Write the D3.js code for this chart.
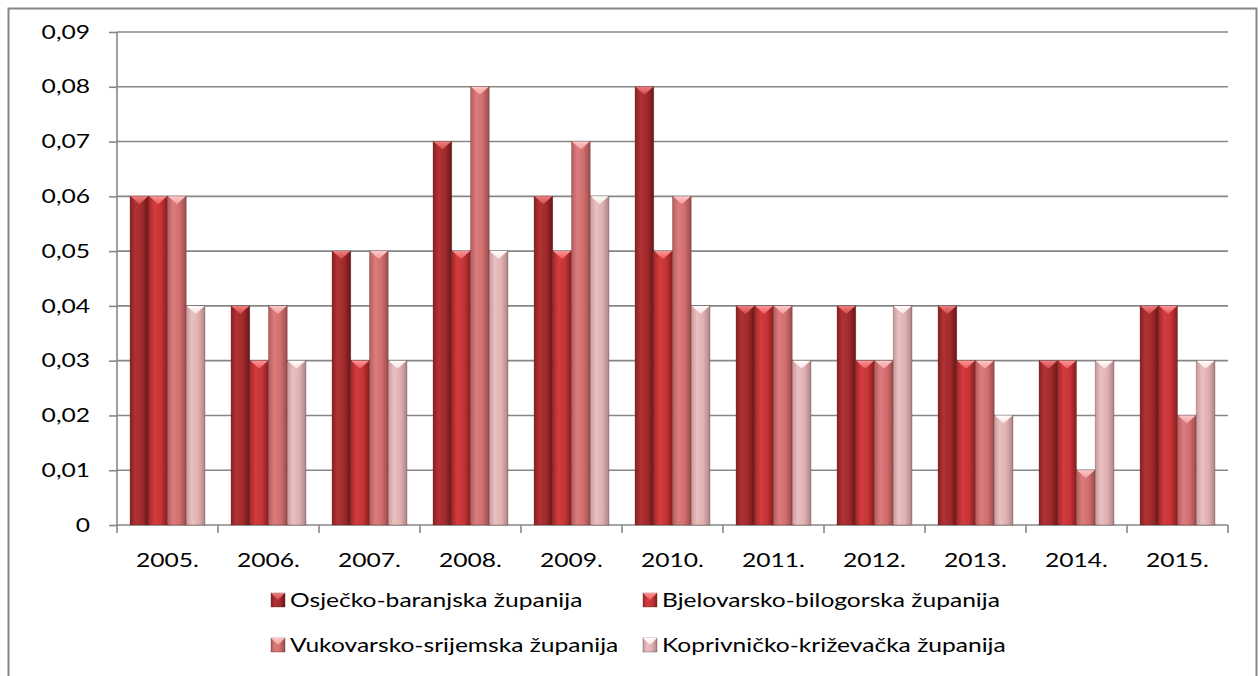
<!DOCTYPE html>
<html><head><meta charset="utf-8">
<script src="https://cdn.jsdelivr.net/npm/d3@7"></script>
<style>body{margin:0;background:#fff}svg{display:block}</style>
</head><body>
<svg id="c" width="1258" height="676"></svg>
<script>
const categories = ["2005.","2006.","2007.","2008.","2009.","2010.","2011.","2012.","2013.","2014.","2015."];
const seriesNames = ["Osječko-baranjska županija","Bjelovarsko-bilogorska županija","Vukovarsko-srijemska županija","Koprivničko-križevačka županija"];
const osijek   = [0.06,0.04,0.05,0.07,0.06,0.08,0.04,0.04,0.04,0.03,0.04];
const bjelovar = [0.06,0.03,0.03,0.05,0.05,0.05,0.04,0.03,0.03,0.03,0.04];
const vukovar  = [0.06,0.04,0.05,0.08,0.07,0.06,0.04,0.03,0.03,0.01,0.02];
const koprivn  = [0.04,0.03,0.03,0.05,0.06,0.04,0.03,0.04,0.02,0.03,0.03];
const yTicks = [0,0.01,0.02,0.03,0.04,0.05,0.06,0.07,0.08,0.09];

const seriesValues = [osijek, bjelovar, vukovar, koprivn];
const colors = [
  {l:"#8a2022", hi:"#b03234", mid:"#a02a2c", edge:"#6a1416", top:"#d44a4c", topL:"#ee7e7e"},
  {l:"#a82628", hi:"#d23c3e", mid:"#c63436", edge:"#861c1e", top:"#ee5a5c", topL:"#fb9494"},
  {l:"#b45c5e", hi:"#dc7c7c", mid:"#d06e6e", edge:"#9a4a4c", top:"#f29c9c", topL:"#fcc8c8"},
  {l:"#c89a9c", hi:"#eac0c0", mid:"#e0b0b0", edge:"#ae8486", top:"#f8dede", topL:"#ffffff"}
];

const svg = d3.select("#c");
const FONT = "Lato, 'Open Sans', sans-serif";
const FS = 18.5;
const SX = 1.33;
const L = 117, R = 1228, T = 32, B = 525;

svg.append("rect").attr("x",8.5).attr("y",8.5).attr("width",1248).attr("height",720)
  .attr("fill","#fff").attr("stroke","#878787").attr("stroke-width",2);

const defs = svg.append("defs");
colors.forEach((c,i)=>{
  const g = defs.append("linearGradient").attr("id","bar"+i).attr("x1","0").attr("x2","1").attr("y1","0").attr("y2","0");
  g.append("stop").attr("offset","0%").attr("stop-color",c.l);
  g.append("stop").attr("offset","30%").attr("stop-color",c.hi);
  g.append("stop").attr("offset","65%").attr("stop-color",c.mid);
  g.append("stop").attr("offset","100%").attr("stop-color",c.edge);
  const t = defs.append("linearGradient").attr("id","tri"+i).attr("x1","0").attr("x2","0").attr("y1","0").attr("y2","1");
  t.append("stop").attr("offset","0%").attr("stop-color",c.topL);
  t.append("stop").attr("offset","100%").attr("stop-color",c.top);
});

const y = d3.scaleLinear().domain([0,0.09]).range([B,T]);
const x0 = d3.scaleBand().domain(categories).range([L,R]).paddingInner(0.258).paddingOuter(0.129);
const x1 = d3.scaleBand().domain(d3.range(4)).range([0,x0.bandwidth()]);

// gridlines
svg.append("g").selectAll("line").data(yTicks.slice(1)).join("line")
  .attr("x1",L).attr("x2",R).attr("y1",d=>y(d)).attr("y2",d=>y(d))
  .attr("stroke","#878787").attr("stroke-width",1.6);

// y axis
const yAxis = svg.append("g").attr("transform",`translate(${L},0)`)
  .call(d3.axisLeft(y).tickValues(yTicks).tickSize(8).tickFormat(()=>""));
yAxis.selectAll("path,line").attr("stroke","#878787").attr("stroke-width",1.6);
yAxis.select(".domain").attr("d",`M0,${T}V${B}`);

// y labels
svg.append("g").selectAll("g").data(yTicks).join("g")
  .attr("transform",d=>`translate(90,${y(d)}) scale(${SX},1)`)
  .append("text").attr("text-anchor","end").attr("dy","0.36em")
  .attr("font-family",FONT).attr("font-size",FS).attr("fill","#000")
  .text(d=> d===0 ? "0" : d3.format(".2f")(d).replace(".",","));

// x axis
const boundaries = categories.map((c,i)=>L + i*(R-L)/categories.length).concat([R]);
svg.append("line").attr("x1",L).attr("x2",R).attr("y1",B).attr("y2",B).attr("stroke","#878787").attr("stroke-width",1.6);
svg.append("g").selectAll("line").data(boundaries).join("line")
  .attr("x1",d=>d).attr("x2",d=>d).attr("y1",B).attr("y2",B+8).attr("stroke","#878787").attr("stroke-width",1.6);

// bars
seriesValues.forEach((vals,si)=>{
  const g = svg.append("g");
  const w = x1.bandwidth();
  vals.forEach((v,ci)=>{
    const bx = x0(categories[ci]) + x1(si);
    const by = y(v);
    g.append("rect").attr("x",bx).attr("y",by).attr("width",w).attr("height",B-by)
      .attr("fill",`url(#bar${si})`).attr("stroke","rgba(70,30,30,0.35)").attr("stroke-width",0.8);
    const th = Math.min(8, B-by);
    g.append("path").attr("d",`M${bx+0.5},${by}L${bx+w-0.5},${by}L${bx+w/2},${by+th}Z`)
      .attr("fill",`url(#tri${si})`);
  });
});

// x labels
svg.append("g").selectAll("g").data(categories).join("g")
  .attr("transform",d=>`translate(${x0(d)+x0.bandwidth()/2},560) scale(${SX},1)`)
  .append("text").attr("text-anchor","middle").attr("dy","0.36em")
  .attr("font-family",FONT).attr("font-size",FS).attr("fill","#000").text(d=>d);

// legend
const legPos = [[271,600],[643,600],[271,645],[643,645]];
seriesNames.forEach((n,i)=>{
  const [lx,ly] = legPos[i];
  const s = 14;
  svg.append("rect").attr("x",lx).attr("y",ly-s/2).attr("width",s).attr("height",s)
    .attr("fill",`url(#bar${i})`).attr("stroke","rgba(70,30,30,0.4)").attr("stroke-width",0.8);
  svg.append("path").attr("d",`M${lx},${ly-s/2}L${lx+s},${ly-s/2}L${lx+s/2},${ly}Z`).attr("fill",`url(#tri${i})`);
  svg.append("g").attr("transform",`translate(${lx+s+5},${ly}) scale(${SX},1)`)
    .append("text").attr("dy","0.36em").attr("font-family",FONT).attr("font-size",FS).attr("fill","#000").text(n);
});
</script>
</body></html>
